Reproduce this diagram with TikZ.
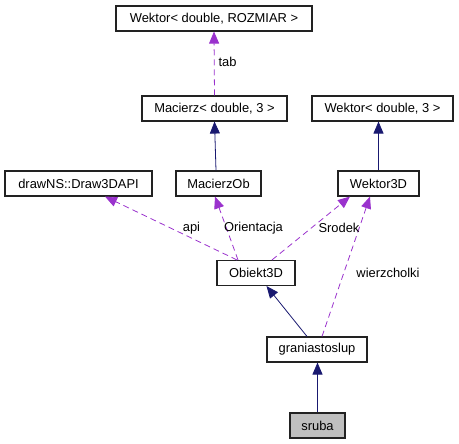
\documentclass[tikz,border=0pt]{standalone}
\usepackage{fontspec}
\setmainfont{Liberation Sans}
\usetikzlibrary{arrows.meta}
\definecolor{navyc}{HTML}{191970}
\definecolor{purp}{HTML}{9A32CD}
\definecolor{greyfill}{HTML}{BFBFBF}
\definecolor{boxline}{HTML}{222222}
\begin{document}
\begin{tikzpicture}[x=1pt,y=-1pt,
  box/.style={draw=boxline, line width=1.1pt, fill=white, minimum height=25pt, inner sep=0pt, font=\fontsize{12.9}{14}\selectfont},
  inh/.style={draw=navyc, line width=0.8pt, -{Triangle[length=12pt,width=10pt,fill=navyc]}},
  use/.style={draw=purp, line width=0.8pt, dash pattern=on 6pt off 4pt, -{Triangle[length=12pt,width=10pt,fill=purp]}},
  lab/.style={inner sep=0pt, font=\fontsize{12.9}{14}\selectfont}]
\useasboundingbox (0,0) rectangle (459,444);
\node[box, minimum width=196pt] (wr) at (214,18.5) {Wektor< double, ROZMIAR >};
\node[box, minimum width=145pt] (mac) at (214.5,108.5) {Macierz< double, 3 >};
\node[box, minimum width=141pt] (w3) at (382.5,108.5) {Wektor< double, 3 >};
\node[box, minimum width=147pt] (api) at (78.5,183.5) {drawNS::Draw3DAPI};
\node[box, minimum width=85pt] (mob) at (218.5,183.5) {MacierzOb};
\node[box, minimum width=81pt] (wek) at (378.5,183.5) {Wektor3D};
\node[box, minimum width=78pt] (obj) at (256,273) {Obiekt3D};
\node[box, minimum width=100pt] (gr) at (317,349.5) {graniastoslup};
\node[box, minimum width=55pt, fill=greyfill] (sr) at (317.5,425.5) {sruba};

\draw[use] (mac.north) -- (wr.south);
\draw[inh] ([xshift=-2.5pt]mob.north) -- (mac.south);
\draw[inh] (wek.north) -- ([xshift=-4pt]w3.south);
\draw[use] ([xshift=-19pt]obj.north) -- ([xshift=26.5pt]api.south);
\draw[use] ([xshift=-18pt]obj.north) -- ([xshift=-3.5pt]mob.south);
\draw[use] ([xshift=16pt]obj.north) -- ([xshift=-28.5pt]wek.south);
\draw[use] ([xshift=5pt]gr.north) -- ([xshift=-8.5pt]wek.south);
\draw[inh] ([xshift=-10pt]gr.north) -- ([xshift=10.5pt]obj.south);
\draw[inh] (sr.north) -- ([xshift=0.5pt]gr.south);

\node[lab] (ltab) at (227.5,62) {tab};
\node[lab] (lapi) at (191.5,228) {api};
\node[lab] (lori) at (253.5,228) {Orientacja};
\node[lab] (lsro) at (339,228) {Srodek};
\node[lab] (lwie) at (388,272.5) {wierzcholki};
\end{tikzpicture}
\end{document}
